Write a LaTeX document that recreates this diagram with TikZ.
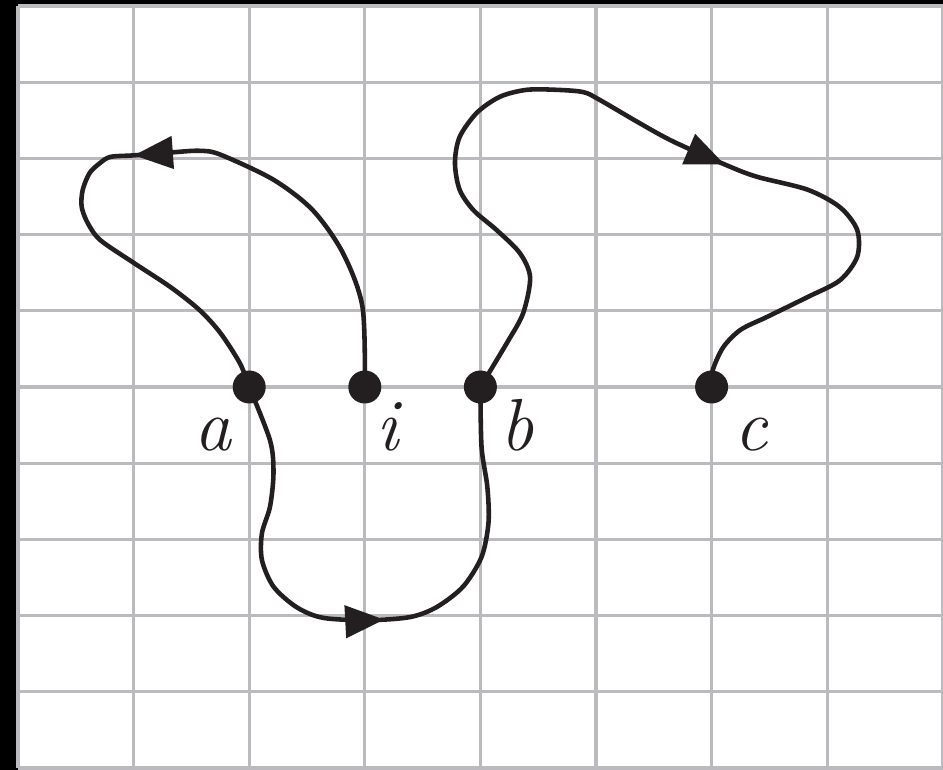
\documentclass[tikz,border=0pt]{standalone}
\usetikzlibrary{arrows.meta,decorations.markings}
\definecolor{GridGray}{HTML}{BBBBBF}
\definecolor{InkBlack}{HTML}{231F20}

\tikzset{
  gridline/.style={draw=GridGray, line width=1.9pt},
  dot/.style={circle, fill=InkBlack, inner sep=0pt, minimum size=0.66cm},
  lbl/.style={anchor=base, inner sep=0pt, text=InkBlack,
    font=\fontsize{42}{50}\selectfont\itshape},
  walk/.style={draw=InkBlack, color=InkBlack, line width=2.6pt, line join=round,
    decoration={markings,
      mark=at position #1 with {\arrow{Triangle[length=0.78cm,width=0.64cm]}}},
    postaction={decorate}}
}

\begin{document}
\begin{tikzpicture}[x=2.312cm, y=1.524cm]
  % paper and grid
  \fill[black] (-0.156,-0.026) rectangle (8.002,10.079);
  \useasboundingbox (-0.156,-0.026) rectangle (8.002,10.079);
  \fill[white] (0,-0.026) rectangle (8.002,10);
  \draw[gridline, step={(1,1)}] (0,0) grid (8,10);

  % vertices
  \node[dot] (a) at (2,5) {};
  \node[dot] (i) at (3,5) {};
  \node[dot] (b) at (4,5) {};
  \node[dot] (c) at (6,5) {};

  \node[lbl] (la) at (1.69,4.17) {a};
  \node[lbl] (li) at (3.20,4.17) {i};
  \node[lbl] (lb) at (4.32,4.17) {b};
  \node[lbl] (lc) at (6.34,4.17) {c};

  % i to a, over the top left
  \draw[walk=7.72cm] plot[smooth] coordinates {(i) (2.98,6.05) (2.81,6.76)
    (2.55,7.32) (2.21,7.72) (1.75,8.05) (1.57,8.10) (1.34,8.08) (1.00,8.04)
    (0.80,8.02) (0.71,7.94) (0.62,7.81) (0.56,7.59) (0.55,7.37) (0.60,7.16)
    (0.71,6.93) (1.00,6.63) (1.32,6.31) (1.57,6.01) (1.75,5.71) (1.92,5.31) (a)};

  % a to b, underneath
  \draw[walk=6.58cm] plot[smooth] coordinates {(a) (2.18,4.30) (2.21,3.87)
    (2.18,3.43) (2.11,3.08) (2.11,2.73) (2.21,2.38) (2.41,2.11) (2.64,1.97)
    (3.03,1.94) (3.39,1.98) (3.62,2.11) (3.85,2.38) (4.01,2.77) (4.07,3.22)
    (4.06,3.69) (4.01,4.21) (b)};

  % b to c, over the top right
  \draw[walk=11.84cm] plot[smooth] coordinates {(b) (4.23,5.58) (4.37,5.97)
    (4.43,6.44) (4.34,6.76) (4.14,7.06) (3.94,7.32) (3.82,7.59) (3.78,7.94)
    (3.82,8.28) (3.97,8.60) (4.17,8.81) (4.40,8.90) (4.66,8.90) (4.89,8.87)
    (5.03,8.77) (5.38,8.46) (5.67,8.22) (6.13,7.91) (6.39,7.76) (6.83,7.59)
    (7.11,7.36) (7.26,7.06) (7.26,6.71) (7.11,6.40) (6.83,6.18) (6.48,5.92)
    (6.25,5.75) (6.10,5.52) (6.01,5.22) (c)};
\end{tikzpicture}
\end{document}
